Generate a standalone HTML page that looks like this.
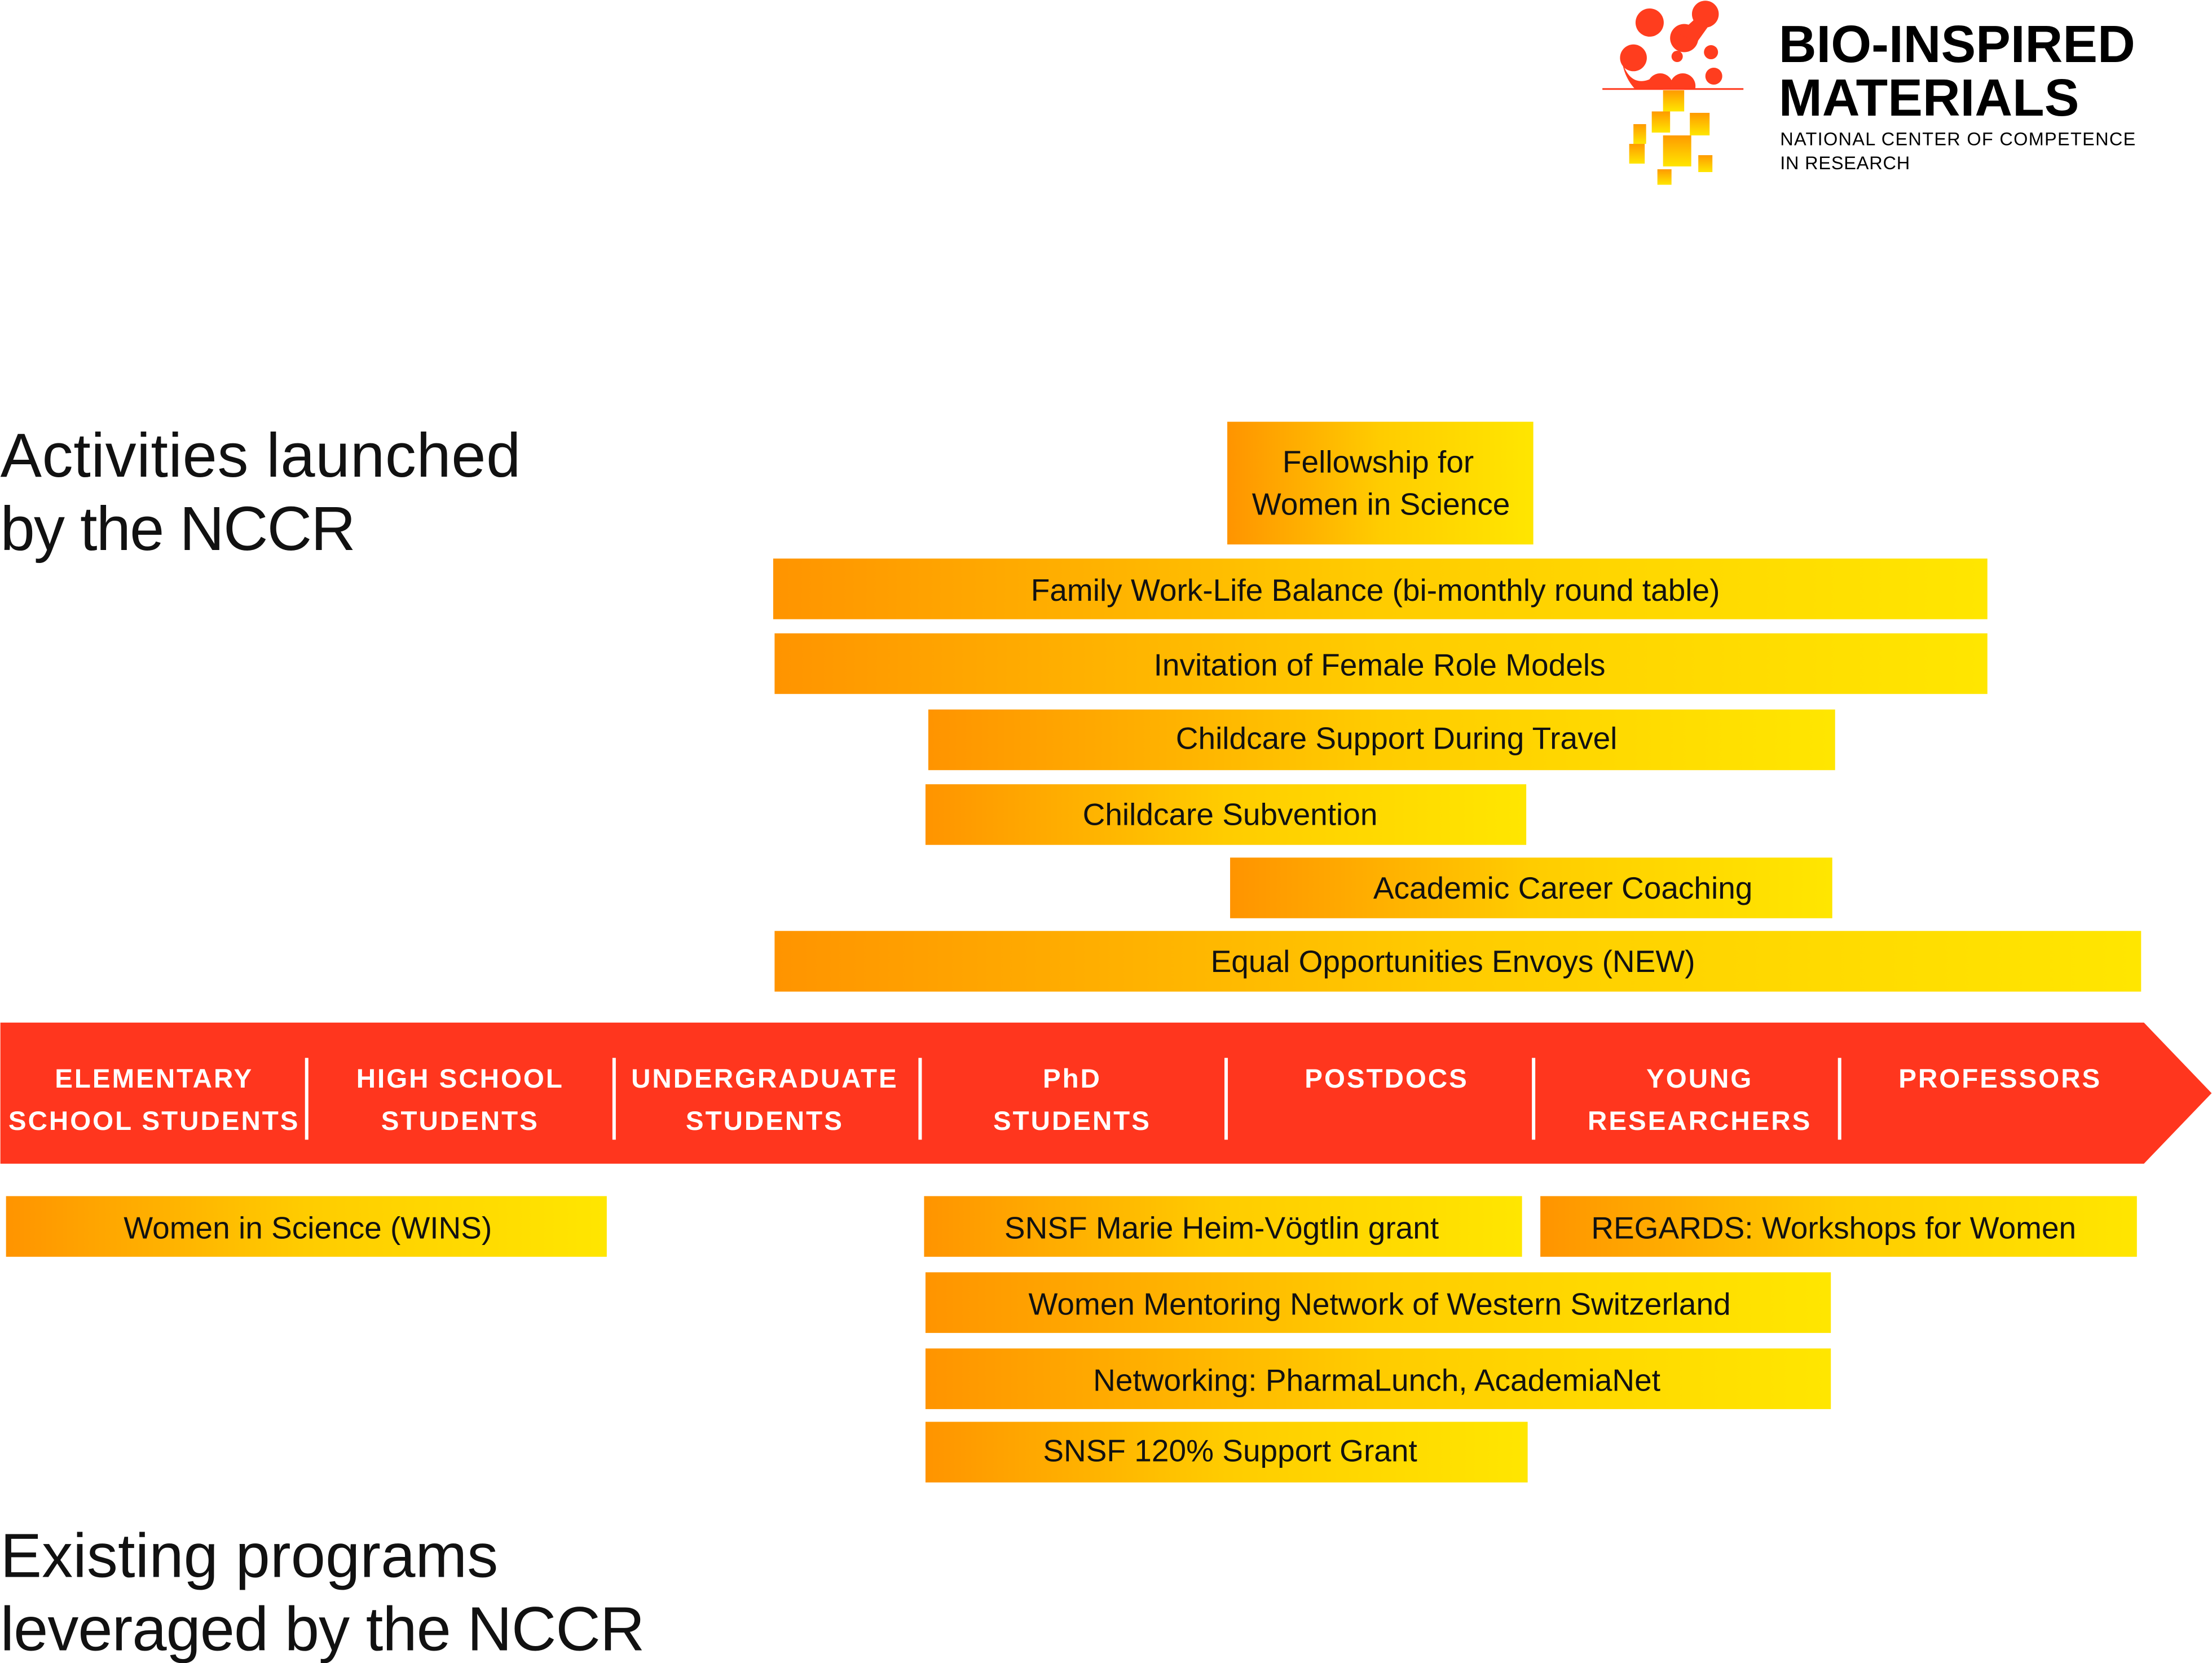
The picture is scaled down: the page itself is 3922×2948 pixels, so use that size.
<!DOCTYPE html>
<html><head><meta charset="utf-8"><style>
html,body{margin:0;padding:0;background:#fff;}
svg{display:block;}
</style></head><body>
<svg xmlns="http://www.w3.org/2000/svg" width="3922" height="2948" viewBox="0 0 1568 1179" font-family="Liberation Sans, sans-serif">
<defs>
<linearGradient id="g" x1="0" x2="1" y1="0" y2="0"><stop offset="0" stop-color="#ff9400"/><stop offset="0.5" stop-color="#ffcc00"/><stop offset="1" stop-color="#ffe600"/></linearGradient>
<linearGradient id="gv" x1="0" x2="0" y1="0" y2="1"><stop offset="0" stop-color="#ff9a00"/><stop offset="1" stop-color="#ffe600"/></linearGradient>
<radialGradient id="rc" cx="0.5" cy="0.45" r="0.6"><stop offset="0" stop-color="#ff7a10"/><stop offset="1" stop-color="#ff3a1e"/></radialGradient>
<clipPath id="cl"><rect x="1130" y="0" width="120" height="63"/></clipPath>
</defs>
<rect width="1568" height="1179" fill="#fff"/>
<!-- logo -->
<g fill="#ff3d1e" clip-path="url(#cl)">
<circle cx="1169.5" cy="16" r="10"/>
<circle cx="1209" cy="10" r="9.5"/>
<circle cx="1194" cy="27" r="10"/>
<path d="M1201 14 L1213 16 L1203 30 L1190 24 Z"/>
<circle cx="1158" cy="41" r="9.5"/>
<circle cx="1189" cy="40" r="4"/>
<circle cx="1213" cy="37" r="5"/>
<circle cx="1215" cy="54" r="6"/>
<circle cx="1177" cy="61" r="9"/>
<circle cx="1193" cy="61" r="9"/>
<path d="M1150 44 Q1156 62 1170 56 L1168 64 L1160 64 Q1152 56 1150 44 Z"/>
</g>
<rect x="1136" y="62.5" width="100" height="1.2" fill="#ff3a1e"/>
<g fill="url(#gv)">
<rect x="1179" y="64" width="15" height="15"/>
<rect x="1171" y="79" width="13" height="15"/>
<rect x="1198" y="80" width="14" height="16"/>
<rect x="1158" y="88" width="9" height="14"/>
<rect x="1179" y="96" width="20" height="22"/>
<rect x="1155" y="102" width="11" height="14"/>
<rect x="1204" y="110" width="10" height="12"/>
<rect x="1175" y="120" width="10" height="11"/>
</g>
<text x="1261" y="44" font-size="37" font-weight="bold" fill="#000">BIO-INSPIRED</text>
<text x="1261" y="82" font-size="37" font-weight="bold" fill="#000">MATERIALS</text>
<text x="1262" y="103" font-size="13" fill="#000" textLength="252">NATIONAL CENTER OF COMPETENCE</text>
<text x="1262" y="120" font-size="13" fill="#000" textLength="92">IN RESEARCH</text>
<!-- headings -->
<text x="0" y="338" font-size="44" fill="#111" textLength="369">Activities launched</text>
<text x="0" y="390" font-size="44" fill="#111" textLength="252">by the NCCR</text>
<text x="0" y="1118" font-size="44" fill="#111" textLength="353">Existing programs</text>
<text x="0" y="1170" font-size="44" fill="#111" textLength="457">leveraged by the NCCR</text>
<!-- arrow -->
<polygon points="0,725 1520,725 1568,775 1520,825 0,825" fill="#ff361e"/>
<g fill="#fff"><rect x="216" y="750" width="2.4" height="58"/><rect x="434" y="750" width="2.4" height="58"/><rect x="651" y="750" width="2.4" height="58"/><rect x="868" y="750" width="2.4" height="58"/><rect x="1086" y="750" width="2.4" height="58"/><rect x="1303" y="750" width="2.4" height="58"/></g>
<g fill="#fff" font-size="19" font-weight="bold" text-anchor="middle" letter-spacing="1.2">
<text x="109" y="771">ELEMENTARY</text><text x="109" y="801">SCHOOL STUDENTS</text>
<text x="326" y="771">HIGH SCHOOL</text><text x="326" y="801">STUDENTS</text>
<text x="542" y="771">UNDERGRADUATE</text><text x="542" y="801">STUDENTS</text>
<text x="760" y="771">PhD</text><text x="760" y="801">STUDENTS</text>
<text x="983" y="771">POSTDOCS</text>
<text x="1205" y="771">YOUNG</text><text x="1205" y="801">RESEARCHERS</text>
<text x="1418" y="771">PROFESSORS</text>
</g>
<!-- bars -->
<g fill="url(#g)">
<rect x="870" y="299" width="217" height="87"/>
<rect x="548" y="396" width="861" height="43"/>
<rect x="549" y="449" width="860" height="43"/>
<rect x="658" y="503" width="643" height="43"/>
<rect x="656" y="556" width="426" height="43"/>
<rect x="872" y="608" width="427" height="43"/>
<rect x="549" y="660" width="969" height="43"/>
<rect x="4" y="848" width="426" height="43"/>
<rect x="655" y="848" width="424" height="43"/>
<rect x="1092" y="848" width="423" height="43"/>
<rect x="656" y="902" width="642" height="43"/>
<rect x="656" y="956" width="642" height="43"/>
<rect x="656" y="1008" width="427" height="43"/>
</g>
<g fill="#111" font-size="22" text-anchor="middle">
<text x="977" y="335">Fellowship for</text><text x="979" y="365">Women in Science</text>
<text x="975" y="426">Family Work-Life Balance (bi-monthly round table)</text>
<text x="978" y="479">Invitation of Female Role Models</text>
<text x="990" y="531">Childcare Support During Travel</text>
<text x="872" y="585">Childcare Subvention</text>
<text x="1108" y="637">Academic Career Coaching</text>
<text x="1030" y="689">Equal Opportunities Envoys (NEW)</text>
<text x="218" y="878">Women in Science (WINS)</text>
<text x="866" y="878">SNSF Marie Heim-Vögtlin grant</text>
<text x="1300" y="878">REGARDS: Workshops for Women</text>
<text x="978" y="932">Women Mentoring Network of Western Switzerland</text>
<text x="976" y="986">Networking: PharmaLunch, AcademiaNet</text>
<text x="872" y="1036">SNSF 120% Support Grant</text>
</g>
</svg>
</body></html>
